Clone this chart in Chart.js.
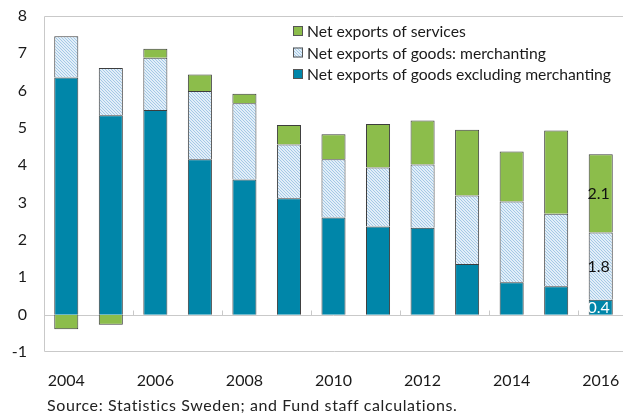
<!DOCTYPE html>
<html><head><meta charset="utf-8">
<script src="https://cdn.jsdelivr.net/npm/chart.js@4/dist/chart.umd.min.js"></script>
<style>
html,body{margin:0;padding:0;background:#fff;}
#wrap{position:relative;width:623px;height:414px;overflow:hidden;}
#source{position:absolute;left:47px;top:395px;font:16px Lato,"Noto Sans",sans-serif;letter-spacing:0.6px;color:#222;white-space:nowrap;line-height:20px;}
</style></head>
<body>
<div id="wrap"><canvas id="c" width="623" height="414"></canvas><div id="source">Source: Statistics Sweden; and Fund staff calculations.</div></div>
<script>
const categories = ['2004','2005','2006','2007','2008','2009','2010','2011','2012','2013','2014','2015','2016'];
const goodsExclMerchanting = [6.35, 5.34, 5.48, 4.16, 3.62, 3.12, 2.60, 2.36, 2.33, 1.36, 0.87, 0.76, 0.40];
const merchanting = [1.11, 1.27, 1.40, 1.83, 2.04, 1.44, 1.56, 1.58, 1.69, 1.83, 2.16, 1.94, 1.80];
const services = [-0.39, -0.27, 0.24, 0.44, 0.26, 0.52, 0.67, 1.17, 1.18, 1.76, 1.34, 2.23, 2.10];
const seriesNames = ['Net exports of goods excluding merchanting','Net exports of goods: merchanting','Net exports of services'];
const yTicks = [-1,0,1,2,3,4,5,6,7,8];
const labelled2016 = ['0.4','1.8','2.1'];

const FONT = 'Lato, "Noto Sans", sans-serif';
const cv = document.getElementById('c');
const mainCtx = cv.getContext('2d');
function hatch(){
  const c = document.createElement('canvas'); c.width = 3; c.height = 3;
  const g = c.getContext('2d');
  g.fillStyle = '#e2eef8'; g.fillRect(0,0,3,3);
  g.fillStyle = '#a3c9e6';
  g.fillRect(0,0,1,1); g.fillRect(1,1,1,1); g.fillRect(2,2,1,1);
  return mainCtx.createPattern(c,'repeat');
}
const hatchPat = hatch();
const colors = ['#0086a9', hatchPat, '#8cbd4b'];

const deco = {
  id: 'deco',
  beforeDatasetsDraw(chart){
    const {ctx, chartArea:a, scales:{x, y}} = chart;
    ctx.save();
    ctx.strokeStyle = '#c9c9c9'; ctx.lineWidth = 1;
    ctx.beginPath();
    ctx.moveTo(a.right+1, a.top+0.5); ctx.lineTo(a.left+0.5, a.top+0.5);
    ctx.lineTo(a.left+0.5, a.bottom-0.5); ctx.lineTo(a.right+1, a.bottom-0.5);
    ctx.stroke();
    const y0 = Math.round(y.getPixelForValue(0)) + 0.5;
    ctx.beginPath(); ctx.moveTo(a.left, y0); ctx.lineTo(a.right, y0); ctx.stroke();
    ctx.beginPath();
    for (let i = 1; i < categories.length - 1; i += 2) {
      const px = Math.round((x.getPixelForValue(i) + x.getPixelForValue(i+1)) / 2) + 0.5;
      ctx.moveTo(px, y0); ctx.lineTo(px, y0 - 5);
    }
    ctx.stroke();
    ctx.restore();
  },
  afterDraw(chart){
    const {ctx} = chart;
    ctx.save();
    const order = [2,1,0];
    const lx = 293, ly0 = 31, dy = 21.5;
    ctx.font = '15.7px ' + FONT;
    ctx.textBaseline = 'middle';
    order.forEach((di, k) => {
      const yy = ly0 + k*dy;
      ctx.fillStyle = colors[di];
      ctx.fillRect(lx, yy-5, 10, 10);
      ctx.strokeStyle = '#555'; ctx.lineWidth = 1;
      ctx.strokeRect(lx+0.5, yy-4.5, 9, 9);
      ctx.fillStyle = '#1a1a1a';
      ctx.fillText(chart.data.datasets[di].label, lx + 14, yy + 1);
    });
    const last = categories.length - 1;
    ctx.textAlign = 'center';
    ctx.font = '16px ' + FONT;
    [0,1,2].forEach(di => {
      const el = chart.getDatasetMeta(di).data[last];
      const cy = (el.y + el.base) / 2;
      ctx.fillStyle = di === 0 ? '#ffffff' : '#111111';
      ctx.fillText(labelled2016[di], el.x - 2, cy + 1);
    });
    ctx.restore();
  }
};

new Chart(cv, {
  type: 'bar',
  data: {
    labels: categories,
    datasets: [
      {label: seriesNames[0], data: goodsExclMerchanting, backgroundColor: colors[0]},
      {label: seriesNames[1], data: merchanting, backgroundColor: colors[1]},
      {label: seriesNames[2], data: services, backgroundColor: colors[2]}
    ].map(d => Object.assign(d, {borderColor: '#3d3d3d', borderWidth: 1, categoryPercentage: 1, barPercentage: 0.54}))
  },
  options: {
    responsive: false,
    animation: false,
    layout: {padding: {top: 16, right: 0, left: 0, bottom: 0}},
    plugins: {legend: {display: false}, tooltip: {enabled: false}},
    scales: {
      x: {
        stacked: true,
        grid: {display: false, drawTicks: false},
        border: {display: false},
        afterFit(s){ s.height = 62; s.paddingLeft = 0; s.paddingRight = 0; },
        ticks: {
          autoSkip: false, maxRotation: 0, padding: 19,
          color: '#1a1a1a', font: {size: 16, family: FONT},
          callback(v, i){ return i % 2 === 0 ? categories[i] : ''; }
        }
      },
      y: {
        stacked: true, min: -1, max: 8,
        grid: {display: false, drawTicks: false},
        border: {display: false},
        afterFit(s){ s.width = 44; s.paddingTop = 0; s.paddingBottom = 0; },
        afterBuildTicks(s){ s.ticks = yTicks.map(v => ({value: v})); },
        ticks: {padding: 17, color: '#1a1a1a', font: {size: 16, family: FONT}}
      }
    }
  },
  plugins: [deco]
});
</script>
</body></html>
